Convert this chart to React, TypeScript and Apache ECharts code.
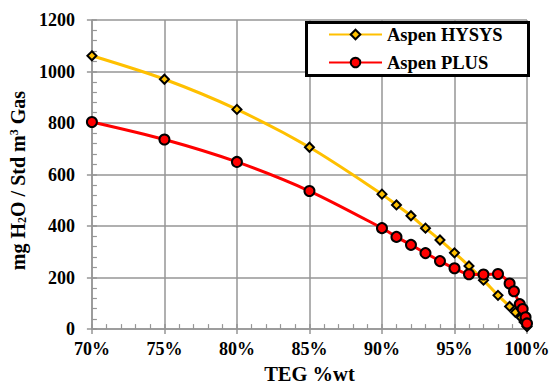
import React, { useEffect, useRef } from "react";
import * as echarts from "echarts";

const hysysX = [70, 75, 80, 85, 90, 91, 92, 93, 94, 95, 96, 97, 98, 98.8, 99.2, 99.6, 99.8, 100];
const hysysY = [1061, 970, 853, 706, 524, 482, 440, 392, 346, 296, 245, 190, 131, 88, 65, 45, 28, 10];
const plusX = [70, 75, 80, 85, 90, 91, 92, 93, 94, 95, 96, 97, 98, 98.8, 99.1, 99.5, 99.7, 99.9, 100];
const plusY = [804, 736, 649, 536, 392, 358, 327, 295, 264, 236, 213, 212, 214, 177, 147, 97, 78, 46, 22];
const seriesNames = ["Aspen HYSYS", "Aspen PLUS"];
const xTicks = [70, 75, 80, 85, 90, 95, 100];
const yTicks = [0, 200, 400, 600, 800, 1000, 1200];

const FONT = "'Liberation Serif', 'Times New Roman', serif";
const GRID = "#969696";

export default function App() {
  const ref = useRef<HTMLDivElement>(null);
  useEffect(() => {
    if (!ref.current) return;
    const chart = echarts.init(ref.current, undefined, { renderer: "svg" });
    const xMin = xTicks[0];
    const xMax = xTicks[xTicks.length - 1];
    const yMin = yTicks[0];
    const yMax = yTicks[yTicks.length - 1];
    const common = { fontFamily: FONT, fontWeight: "bold", color: "#000" };
    chart.setOption({
      animation: false,
      backgroundColor: "#fff",
      grid: { left: 86, right: 27, top: 20, bottom: 57 },
      legend: {
        left: 305,
        top: 22,
        orient: "vertical",
        padding: [2, 20, 2, 23],
        itemWidth: 53,
        itemHeight: 12,
        itemGap: 7,
        z: 10,
        textStyle: { ...common, fontSize: 18.5, lineHeight: 21 },
        data: seriesNames,
      },
      graphic: [
        {
          type: "rect",
          z: 5,
          shape: { x: 306.5, y: 22.5, width: 222, height: 53 },
          style: { fill: "#fff", stroke: "#000", lineWidth: 3 },
        },
      ],
      xAxis: [
        {
          type: "value",
          min: xMin,
          max: xMax,
          interval: 5,
          name: "TEG %wt",
          nameLocation: "middle",
          nameGap: 32,
          nameTextStyle: { ...common, fontSize: 20.5 },
          axisLine: { lineStyle: { color: GRID, width: 1.5 } },
          axisTick: { inside: true, length: 5, lineStyle: { color: GRID, width: 1.5 } },
          minorTick: { show: true, splitNumber: 5, length: 5, lineStyle: { color: GRID, width: 1.2 } },
          splitLine: { show: true, lineStyle: { color: GRID, width: 1.5 } },
          axisLabel: { ...common, fontSize: 18, margin: 11, formatter: (v: number) => `${v}%` },
        },
        {
          type: "value",
          min: xMin,
          max: xMax,
          interval: 5,
          position: "bottom",
          axisLine: { show: false },
          axisTick: { show: true, inside: false, length: 5, lineStyle: { color: GRID, width: 1.5 } },
          splitLine: { show: false },
          axisLabel: { show: false },
        },
      ],
      yAxis: [
        {
          type: "value",
          min: yMin,
          max: yMax,
          interval: 200,
          name: "{a|mg H}{s|2}{a|O / Std m}{p|3}{a| Gas}",
          nameLocation: "middle",
          nameGap: 56,
          nameTextStyle: {
            ...common,
            fontSize: 20,
            padding: [0, 12, 0, 0],
            rich: {
              a: { ...common, fontSize: 20 },
              s: { ...common, fontSize: 12, verticalAlign: "bottom", padding: [8, 0, 0, 0] },
              p: { ...common, fontSize: 12, verticalAlign: "top", padding: [0, 0, 8, 0] },
            },
          },
          axisLine: { show: true, lineStyle: { color: GRID, width: 1.5 } },
          axisTick: { show: true, inside: true, length: 5, lineStyle: { color: GRID, width: 1.5 } },
          minorTick: { show: true, splitNumber: 5, length: 5, lineStyle: { color: GRID, width: 1.2 } },
          splitLine: { show: true, lineStyle: { color: GRID, width: 1.5 } },
          axisLabel: { ...common, fontSize: 18, margin: 17, formatter: (v: number) => String(v) },
        },
        {
          type: "value",
          min: yMin,
          max: yMax,
          interval: 200,
          position: "left",
          axisLine: { show: false },
          axisTick: { show: true, inside: false, length: 5, lineStyle: { color: GRID, width: 1.5 } },
          splitLine: { show: false },
          axisLabel: { show: false },
        },
      ],
      series: [
        {
          name: seriesNames[0],
          type: "line",
          xAxisIndex: 0,
          yAxisIndex: 0,
          data: hysysX.map((x, i) => [x, hysysY[i]]),
          smooth: 0.3,
          symbol: "diamond",
          symbolSize: 9,
          lineStyle: { color: "#FFC000", width: 3 },
          itemStyle: { color: "#FFC000", borderColor: "#000", borderWidth: 2 },
          z: 3,
        },
        {
          name: seriesNames[1],
          type: "line",
          xAxisIndex: 0,
          yAxisIndex: 0,
          data: plusX.map((x, i) => [x, plusY[i]]),
          smooth: 0.3,
          symbol: "circle",
          symbolSize: 10,
          lineStyle: { color: "#FF0000", width: 3 },
          itemStyle: { color: "#FF0000", borderColor: "#000", borderWidth: 2 },
          z: 4,
        },
      ],
    });
    return () => chart.dispose();
  }, []);
  return <div ref={ref} style={{ position: "fixed", left: 0, top: 0, width: 554, height: 389 }} />;
}
